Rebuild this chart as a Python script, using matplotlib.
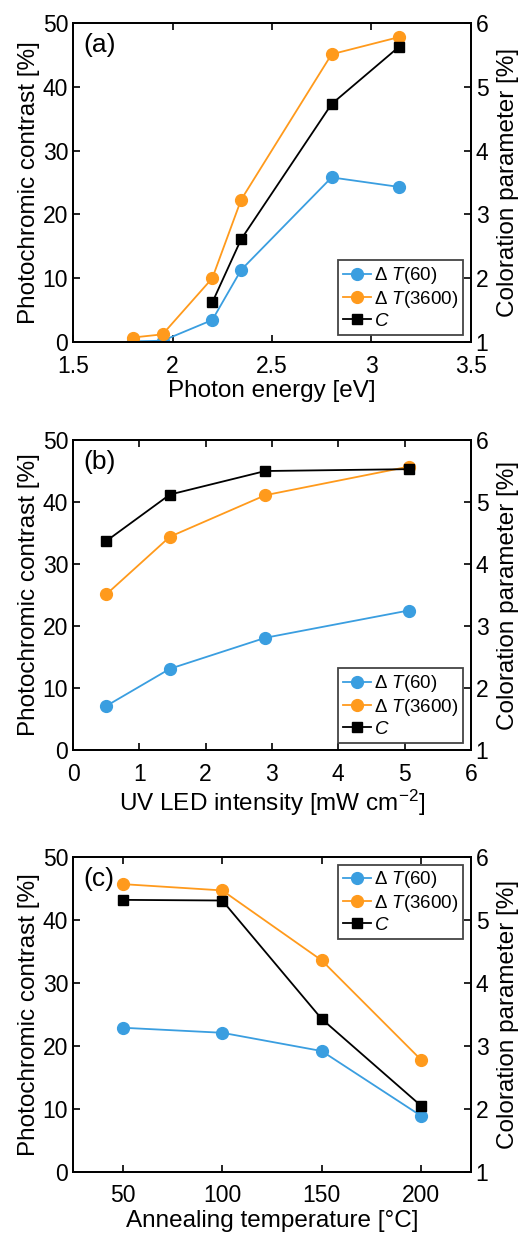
import numpy as np
import matplotlib.pyplot as plt

plt.rcParams['font.family'] = ['Liberation Sans', 'DejaVu Sans']
plt.rcParams['mathtext.fontset'] = 'custom'
plt.rcParams['mathtext.rm'] = 'Liberation Sans'
plt.rcParams['mathtext.it'] = 'Liberation Sans:italic'

# (a) photon energy
energy = [1.80, 1.95, 2.20, 2.345, 2.80, 3.14]
dT60_a = [0.1, 0.2, 3.45, 11.3, 25.8, 24.3]
dT3600_a = [0.7, 1.2, 10.0, 22.3, 45.1, 47.8]
energy_c = [2.20, 2.345, 2.80, 3.14]
C_a = [1.62, 2.61, 4.73, 5.63]

# (b) UV LED intensity
intensity = [0.50, 1.46, 2.90, 5.06]
dT60_b = [7.1, 13.1, 18.1, 22.5]
dT3600_b = [25.1, 34.4, 41.1, 45.7]
C_b = [4.37, 5.12, 5.50, 5.53]

# (c) annealing temperature
temp = [50, 100, 150, 200]
dT60_c = [22.9, 22.1, 19.2, 8.9]
dT3600_c = [45.7, 44.7, 33.6, 17.8]
C_c = [5.32, 5.31, 3.43, 2.05]

blue = '#3a9ee0'
orange = '#ff9a1c'
fs = 16.5

fig = plt.figure(figsize=(5.22, 12.36), dpi=100)
boxes = [[0.140, 0.7233, 0.762, 0.2581],
         [0.140, 0.3932, 0.762, 0.2508],
         [0.140, 0.0518, 0.762, 0.2548]]

panels = [
    ('(a)', energy, dT60_a, dT3600_a, energy_c, C_a, (1.5, 3.5), [1.5, 2, 2.5, 3, 3.5],
     ['1.5', '2', '2.5', '3', '3.5'], 'Photon energy [eV]', 'lower right'),
    ('(b)', intensity, dT60_b, dT3600_b, intensity, C_b, (0, 6), [0, 1, 2, 3, 4, 5, 6],
     ['0', '1', '2', '3', '4', '5', '6'], 'UV LED intensity [mW cm$^{-2}$]', 'lower right'),
    ('(c)', temp, dT60_c, dT3600_c, temp, C_c, (25, 225), [50, 100, 150, 200],
     ['50', '100', '150', '200'], 'Annealing temperature [\u00b0C]', 'upper right'),
]

for box, (lab, x, y60, y3600, xc, yc, xlim, xt, xtl, xlabel, loc) in zip(boxes, panels):
    ax = fig.add_axes(box)
    ax2 = ax.twinx()
    l1, = ax.plot(x, y60, '-o', color=blue, lw=1.3, ms=8.5, label=r'$\Delta\ T$(60)')
    l2, = ax.plot(x, y3600, '-o', color=orange, lw=1.3, ms=8.5, label=r'$\Delta\ T$(3600)')
    l3, = ax2.plot(xc, yc, '-s', color='black', lw=1.3, ms=6.5, label=r'$C$')
    ax.set_xlim(*xlim)
    ax.set_ylim(0, 50)
    ax2.set_ylim(1, 6)
    ax.set_xticks(xt)
    ax.set_xticklabels(xtl)
    ax.set_yticks([0, 10, 20, 30, 40, 50])
    ax2.set_yticks([1, 2, 3, 4, 5, 6])
    ax.tick_params(direction='in', top=True, labelsize=fs, length=5, width=1.2)
    ax.tick_params(axis='x', pad=9)
    ax2.tick_params(direction='in', labelsize=fs, length=5, width=1.2)
    for a in (ax, ax2):
        for s in a.spines.values():
            s.set_linewidth(1.3)
    ax.set_ylabel('Photochromic contrast [%]', fontsize=17.5, labelpad=2)
    ax2.set_ylabel('Coloration parameter [%]', fontsize=17.5, labelpad=6)
    ax.set_xlabel(xlabel, fontsize=17.5, labelpad=2)
    ax.text(0.025, 0.93, lab, transform=ax.transAxes, fontsize=19, va='center')
    leg = ax2.legend([l1, l2, l3], [l1.get_label(), l2.get_label(), l3.get_label()],
                     loc=loc, fontsize=13.5, handlelength=1.5, handletextpad=0.2,
                     borderpad=0.25, labelspacing=0.15, fancybox=False,
                     framealpha=1, borderaxespad=0.4)
    leg.get_frame().set_edgecolor('#444444')
    leg.get_frame().set_linewidth(1.3)

fig.savefig('out.png', dpi=100)
